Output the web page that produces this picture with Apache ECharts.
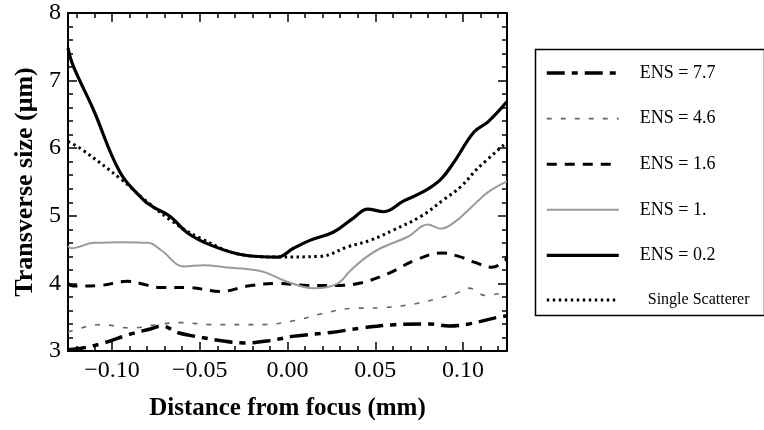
<!DOCTYPE html>
<html>
<head>
<meta charset="utf-8">
<script src="https://cdn.jsdelivr.net/npm/echarts@6/dist/echarts.min.js"></script>
<style>html,body{margin:0;padding:0;background:#fff}#c{width:764px;height:430px}</style>
</head>
<body>
<div id="c"></div>
<script>
// ---- data ----
var xLabels = [-0.10, -0.05, 0.00, 0.05, 0.10];
var xMinorTicks = [-0.12,-0.11,-0.10,-0.09,-0.08,-0.07,-0.06,-0.05,-0.04,-0.03,-0.02,-0.01,0.00,0.01,0.02,0.03,0.04,0.05,0.06,0.07,0.08,0.09,0.10,0.11,0.12];
var yLabels = [3, 4, 5, 6, 7, 8];
var seriesNames = ['ENS = 7.7','ENS = 4.6','ENS = 1.6','ENS = 1.','ENS = 0.2','Single Scatterer'];

var x_ens02 = [-0.125,-0.1221,-0.1107,-0.0953,-0.0822,-0.0765,-0.0668,-0.0571,-0.044,-0.025,-0.0057,0.0034,0.0131,0.0263,0.0377,0.0457,0.0548,0.0662,0.0776,0.0873,0.0947,0.1062,0.1142,0.125];
var y_ens02 = [7.48,7.22,6.58,5.64,5.24,5.13,4.99,4.75,4.57,4.42,4.39,4.52,4.64,4.76,4.97,5.10,5.06,5.22,5.36,5.54,5.79,6.24,6.39,6.69];

var x_single = [-0.125,-0.1176,-0.0947,-0.0833,-0.0668,-0.0497,-0.025,-0.0057,0.0188,0.0342,0.0473,0.0604,0.0759,0.0890,0.0987,0.1079,0.125];
var y_single = [6.10,5.99,5.54,5.28,4.94,4.67,4.42,4.39,4.40,4.54,4.64,4.79,4.99,5.24,5.43,5.69,6.09];

var x_ens1 = [-0.125,-0.1233,-0.1102,-0.0930,-0.0793,-0.0719,-0.0588,-0.0474,-0.0359,-0.0148,-0.0017,0.0148,0.0279,0.0359,0.0439,0.0530,0.0685,0.0799,0.0873,0.0953,0.1044,0.1142,0.125];
var y_ens1 = [4.55,4.52,4.60,4.61,4.60,4.49,4.25,4.27,4.24,4.18,4.04,3.93,3.99,4.19,4.37,4.52,4.69,4.87,4.81,4.91,5.12,5.35,5.51];

var x_ens16 = [-0.125,-0.1221,-0.1067,-0.0913,-0.0839,-0.0725,-0.0571,-0.038,-0.0228,-0.0057,0.0114,0.0290,0.0422,0.0576,0.0725,0.0879,0.0976,0.1067,0.1164,0.1238,0.125];
var y_ens16 = [4.00,3.96,3.97,4.03,4.00,3.94,3.94,3.88,3.96,4.00,3.97,3.97,4.01,4.15,4.34,4.45,4.40,4.31,4.24,4.34,4.39];

var x_ens46 = [-0.125,-0.1176,-0.1062,-0.0890,-0.0719,-0.0605,-0.0434,-0.0148,0.0040,0.0194,0.0365,0.0536,0.0731,0.0862,0.0959,0.1033,0.1130,0.1222,0.125];
var y_ens46 = [3.28,3.34,3.39,3.34,3.40,3.42,3.39,3.39,3.45,3.55,3.63,3.64,3.70,3.78,3.85,3.93,3.82,3.85,3.85];

var x_ens77 = [-0.125,-0.1176,-0.1044,-0.0907,-0.0776,-0.0719,-0.0622,-0.0531,-0.0394,-0.0245,-0.0108,0.0040,0.0234,0.0422,0.0610,0.0805,0.0919,0.1033,0.1182,0.125];
var y_ens77 = [3.02,3.04,3.12,3.24,3.33,3.37,3.27,3.22,3.16,3.12,3.15,3.22,3.27,3.34,3.39,3.40,3.37,3.40,3.49,3.52];

function pts(xs, ys){ return xs.map(function(x,i){ return [x, ys[i]]; }); }

var serif = 'Liberation Serif, Times New Roman, serif';
var chart = echarts.init(document.getElementById('c'), null, {renderer:'canvas'});

var styles = [
  {color:'#000', width:3.5, type:[18,7,6,7]},
  {color:'#666', width:1.6, type:[5,9]},
  {color:'#000', width:3, type:[10,8]},
  {color:'#9a9a9a', width:2, type:'solid'},
  {color:'#000', width:3.2, type:'solid'},
  {color:'#000', width:3, type:[2.5,3.5]}
];

function lineSeries(i, xs, ys){
  var s = styles[i];
  return {name:seriesNames[i], type:'line', data:pts(xs,ys), showSymbol:false, symbol:'none', smooth:0.4,
    lineStyle:{color:s.color, width:s.width, type:s.type}, itemStyle:{color:s.color}};
}

var option = {
  backgroundColor:'#fff',
  animation:false,
  grid: {left:68, right:257, top:13, bottom:79},
  graphic: [{
    type:'rect', left:533, top:47,
    shape:{width:229, height:266},
    style:{fill:'none', stroke:'#000', lineWidth:1.5}
  }],
  legend: {
    orient:'vertical', left:540, top:59,
    itemWidth:72, itemHeight:18, itemGap:27.6,
    itemStyle:{opacity:0, borderWidth:0},
    textStyle:{fontFamily:serif, fontSize:18, color:'#000', padding:[0,0,0,16],
      rich:{s:{fontFamily:serif, fontSize:16, color:'#000', padding:[0,0,0,8]}}},
    formatter:function(n){ return n === 'Single Scatterer' ? '{s|' + n + '}' : n; },
    data: seriesNames.map(function(n, i){
      var s = styles[i];
      return {name:n, lineStyle:{color:s.color, width:s.width, type:s.type}};
    })
  },
  xAxis: [{
    type:'value', min:-0.125, max:0.125,
    name:'Distance from focus (mm)', nameLocation:'middle', nameGap:45,
    nameTextStyle:{fontFamily:serif, fontSize:25, fontWeight:'bold', color:'#000'},
    axisLine:{show:true, onZero:false, lineStyle:{color:'#000', width:2}},
    axisTick:{show:true, inside:true, length:9, customValues:xLabels, lineStyle:{color:'#000', width:1.5}},
    axisLabel:{customValues:xLabels, fontFamily:serif, fontSize:24, color:'#000', margin:8,
      formatter:function(v){ var s = Math.abs(v).toFixed(2); return (v < -1e-9 ? '\u2212' : '') + s; }},
    splitLine:{show:false}
  },{
    type:'value', min:-0.125, max:0.125, position:'bottom',
    axisLine:{show:false},
    axisTick:{show:true, inside:true, length:5, customValues:xMinorTicks, lineStyle:{color:'#000', width:1.5}},
    axisLabel:{show:false}, splitLine:{show:false}
  },{
    type:'value', min:-0.125, max:0.125, position:'top',
    axisLine:{show:true, onZero:false, lineStyle:{color:'#000', width:2}},
    axisTick:{show:true, inside:true, length:5, customValues:xMinorTicks, lineStyle:{color:'#000', width:1.5}},
    axisLabel:{show:false}, splitLine:{show:false}
  },{
    type:'value', min:-0.125, max:0.125, position:'top',
    axisLine:{show:false},
    axisTick:{show:true, inside:true, length:9, customValues:xLabels, lineStyle:{color:'#000', width:1.5}},
    axisLabel:{show:false}, splitLine:{show:false}
  }],
  yAxis: [{
    type:'value', min:3, max:8, interval:1,
    name:'Transverse size (\u03bcm)', nameLocation:'middle', nameGap:30,
    nameTextStyle:{fontFamily:serif, fontSize:26, fontWeight:'bold', color:'#000'},
    axisLine:{show:true, onZero:false, lineStyle:{color:'#000', width:2}},
    axisTick:{show:true, inside:true, length:9, lineStyle:{color:'#000', width:1.5}},
    minorTick:{show:true, splitNumber:5, length:5, lineStyle:{color:'#000', width:1.5}},
    axisLabel:{fontFamily:serif, fontSize:24, color:'#000', margin:7,
      formatter:function(v){ return yLabels.indexOf(v) >= 0 ? String(v) : ''; }},
    splitLine:{show:false}, minorSplitLine:{show:false}
  },{
    type:'value', min:3, max:8, interval:1, position:'right',
    axisLine:{show:true, onZero:false, lineStyle:{color:'#000', width:2}},
    axisTick:{show:true, inside:true, length:9, lineStyle:{color:'#000', width:1.5}},
    minorTick:{show:true, splitNumber:5, length:5, lineStyle:{color:'#000', width:1.5}},
    axisLabel:{show:false},
    splitLine:{show:false}, minorSplitLine:{show:false}
  }],
  series: [
    lineSeries(0, x_ens77, y_ens77),
    lineSeries(1, x_ens46, y_ens46),
    lineSeries(2, x_ens16, y_ens16),
    lineSeries(3, x_ens1, y_ens1),
    lineSeries(4, x_ens02, y_ens02),
    lineSeries(5, x_single, y_single)
  ]
};
chart.setOption(option);
</script>
</body>
</html>
